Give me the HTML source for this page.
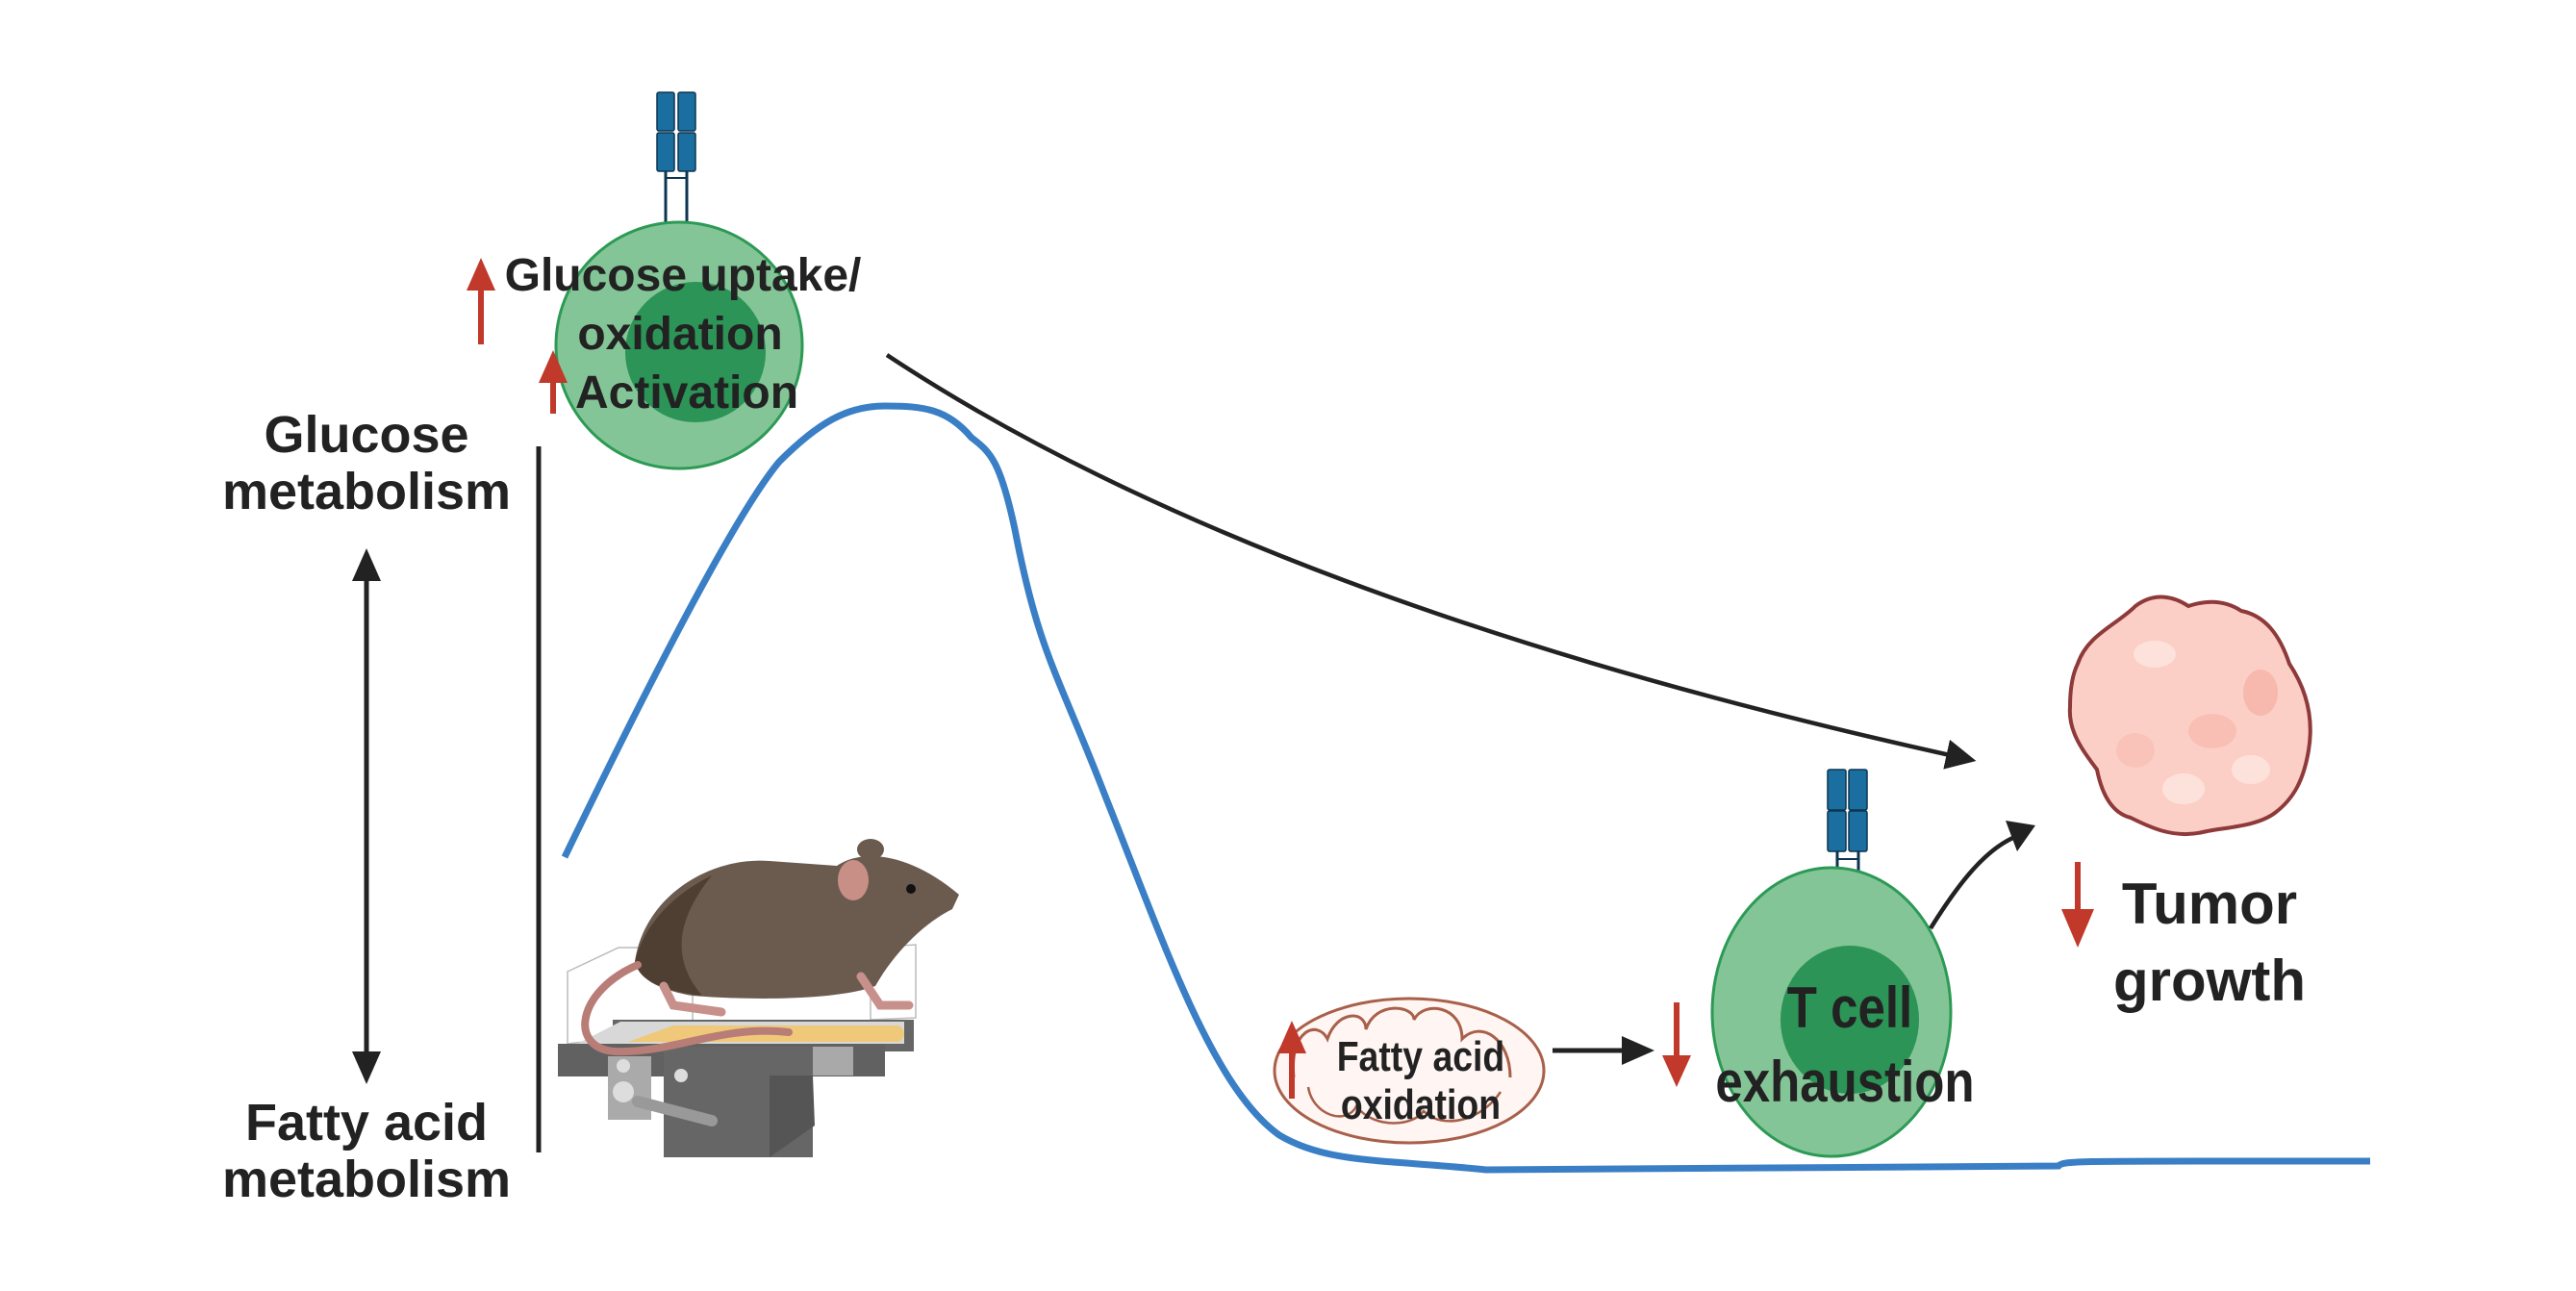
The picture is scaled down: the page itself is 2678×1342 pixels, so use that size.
<!DOCTYPE html>
<html><head><meta charset="utf-8"><style>
html,body{margin:0;padding:0;background:#fff}
svg{display:block}
text{font-family:"Liberation Sans",sans-serif;font-weight:bold;fill:#222}
</style></head><body>
<svg width="2678" height="1342" viewBox="0 0 2678 1342" xmlns="http://www.w3.org/2000/svg">
<defs>
<marker id="ah" markerWidth="10" markerHeight="10" refX="6" refY="5" orient="auto" markerUnits="strokeWidth">
<path d="M0,1.5 L7,5 L0,8.5 z" fill="#222"/></marker>
</defs>
<path d="M587,891 C660,740 760,540 810,480 C850,440 880,422 920,422 C960,422 985,425 1010,455 C1030,470 1040,480 1055,550 C1080,680 1100,700 1150,830 C1210,980 1260,1130 1330,1180 C1380,1210 1440,1205 1545,1216 C1700,1214 1900,1213 2140,1212 C2145,1206 2160,1207 2464,1207" fill="none" stroke="#3a7fc5" stroke-width="7"/>
<line x1="560" y1="464" x2="560" y2="1198" stroke="#222" stroke-width="5"/>
<line x1="381" y1="600" x2="381" y2="1097" stroke="#222" stroke-width="5"/>
<path d="M366,604 L381,570 L396,604 z" fill="#222"/>
<path d="M366,1093 L381,1127 L396,1093 z" fill="#222"/>
<text x="381" y="470" font-size="54" text-anchor="middle">Glucose</text>
<text x="381" y="529" font-size="54" text-anchor="middle">metabolism</text>
<text x="381" y="1185" font-size="54" text-anchor="middle">Fatty acid</text>
<text x="381" y="1244" font-size="54" text-anchor="middle">metabolism</text>
<path d="M922,369 C1150,520 1500,670 2050,790" fill="none" stroke="#222" stroke-width="4.5" marker-end="url(#ah)"/>
<line x1="692" y1="175" x2="692" y2="250" stroke="#0d3550" stroke-width="3"/>
<line x1="714" y1="175" x2="714" y2="250" stroke="#0d3550" stroke-width="3"/>
<line x1="692" y1="185" x2="714" y2="185" stroke="#0d3550" stroke-width="2"/>
<rect x="683" y="96" width="18" height="40" rx="2" fill="#1b6fa0" stroke="#0d3550" stroke-width="1.5"/>
<rect x="705" y="96" width="18" height="40" rx="2" fill="#1b6fa0" stroke="#0d3550" stroke-width="1.5"/>
<rect x="683" y="138" width="18" height="40" rx="2" fill="#1b6fa0" stroke="#0d3550" stroke-width="1.5"/>
<rect x="705" y="138" width="18" height="40" rx="2" fill="#1b6fa0" stroke="#0d3550" stroke-width="1.5"/>
<circle cx="706" cy="359" r="128" fill="#84c597" stroke="#2c9a55" stroke-width="3"/>
<circle cx="723" cy="366" r="73" fill="#2b9456"/>
<text x="710" y="302" font-size="48" text-anchor="middle">Glucose uptake/</text>
<text x="707" y="363" font-size="48" text-anchor="middle">oxidation</text>
<text x="598" y="424" font-size="48">Activation</text>
<rect x="497" y="300" width="6" height="58" fill="#c0392b"/>
<path d="M485,302 L500,268 L515,302 z" fill="#c0392b"/>
<rect x="572" y="395" width="6" height="35" fill="#c0392b"/>
<path d="M560,398 L575,364 L590,398 z" fill="#c0392b"/>
<g>
<path d="M590,1010 L643,985 L720,985 L720,1070 L590,1085 z" fill="none" stroke="#bbb" stroke-width="1.5"/>
<path d="M905,985 L952,982 L952,1058 L905,1060 z" fill="none" stroke="#bbb" stroke-width="1.5"/>
<rect x="637" y="1060" width="313" height="33" fill="#666"/>
<path d="M600,1085 L645,1062 L940,1062 L940,1085 z" fill="#d8d8d8"/>
<path d="M653,1083 L700,1066 L935,1066 Q945,1075 935,1083 z" fill="#f0c879"/>
<rect x="580" y="1085" width="340" height="34" fill="#616161"/>
<rect x="792" y="1088" width="95" height="30" fill="#a9a9a9"/>
<rect x="690" y="1088" width="155" height="115" fill="#666"/>
<path d="M845,1118 L847,1170 L800,1203 L800,1118 z" fill="#555"/>
<rect x="632" y="1098" width="45" height="66" fill="#aaa"/>
<circle cx="648" cy="1135" r="11" fill="#ddd"/>
<circle cx="648" cy="1108" r="7" fill="#ddd"/>
<circle cx="708" cy="1118" r="7" fill="#ddd"/>
<line x1="663" y1="1145" x2="740" y2="1165" stroke="#999" stroke-width="12" stroke-linecap="round"/>
<path d="M660,1000 C670,930 740,890 800,895 L870,900 C900,880 950,890 997,930 L990,945 C960,960 930,990 910,1025 C870,1040 780,1040 720,1035 C690,1030 665,1020 660,1000 z" fill="#6b5b4f"/>
<path d="M660,1000 C670,960 700,930 740,910 C700,960 700,1000 730,1035 C690,1030 665,1020 660,1000 z" fill="#4f3f32"/>
<ellipse cx="905" cy="883" rx="14" ry="11" fill="#6b5b4f"/>
<ellipse cx="887" cy="915" rx="16" ry="21" fill="#c88f86"/>
<circle cx="947" cy="924" r="5" fill="#111"/>
<path d="M690,1025 L700,1045 L750,1052 M895,1015 L915,1045 L945,1045" fill="none" stroke="#c8908a" stroke-width="9" stroke-linecap="round"/>
<path d="M663,1003 C600,1030 590,1090 640,1093 C700,1095 750,1065 820,1073" fill="none" stroke="#b77d76" stroke-width="8" stroke-linecap="round"/>
</g>
<ellipse cx="1465" cy="1113" rx="140" ry="75" fill="#fff5f2" stroke="#a8604a" stroke-width="3"/>
<path d="M1345,1120 C1340,1070 1370,1060 1380,1080 C1390,1050 1420,1050 1420,1070 C1430,1040 1470,1045 1470,1060 C1480,1040 1520,1045 1520,1080 C1540,1060 1570,1080 1570,1120" fill="none" stroke="#a8604a" stroke-width="3"/>
<path d="M1360,1130 C1365,1160 1400,1170 1410,1150 C1430,1175 1470,1170 1480,1155 C1500,1175 1540,1165 1560,1135" fill="none" stroke="#a8604a" stroke-width="2.5"/>
<text x="1477" y="1113" font-size="44" text-anchor="middle" transform="translate(1477 0) scale(0.85 1) translate(-1477 0)">Fatty acid</text>
<text x="1477" y="1163" font-size="44" text-anchor="middle" transform="translate(1477 0) scale(0.85 1) translate(-1477 0)">oxidation</text>
<rect x="1340" y="1092" width="6" height="50" fill="#c0392b"/>
<path d="M1328,1095 L1343,1061 L1358,1095 z" fill="#c0392b"/>
<line x1="1614" y1="1092" x2="1690" y2="1092" stroke="#222" stroke-width="5"/>
<path d="M1686,1077 L1720,1092 L1686,1107 z" fill="#222"/>
<rect x="1740" y="1042" width="6" height="60" fill="#c0392b"/>
<path d="M1728,1097 L1743,1130 L1758,1097 z" fill="#c0392b"/>
<line x1="1910" y1="880" x2="1910" y2="965" stroke="#0d3550" stroke-width="3"/>
<line x1="1932" y1="880" x2="1932" y2="965" stroke="#0d3550" stroke-width="3"/>
<line x1="1910" y1="893" x2="1932" y2="893" stroke="#0d3550" stroke-width="2"/>
<rect x="1900" y="800" width="19" height="42" rx="2" fill="#1b6fa0" stroke="#0d3550" stroke-width="1.5"/>
<rect x="1922" y="800" width="19" height="42" rx="2" fill="#1b6fa0" stroke="#0d3550" stroke-width="1.5"/>
<rect x="1900" y="843" width="19" height="42" rx="2" fill="#1b6fa0" stroke="#0d3550" stroke-width="1.5"/>
<rect x="1922" y="843" width="19" height="42" rx="2" fill="#1b6fa0" stroke="#0d3550" stroke-width="1.5"/>
<ellipse cx="1904" cy="1052" rx="124" ry="150" fill="#84c597" stroke="#2c9a55" stroke-width="3"/>
<ellipse cx="1923" cy="1060" rx="72" ry="77" fill="#2b9456"/>
<text x="1923" y="1068" font-size="60" text-anchor="middle" transform="translate(1923 0) scale(0.85 1) translate(-1923 0)">T cell</text>
<text x="1918" y="1145" font-size="60" text-anchor="middle" transform="translate(1918 0) scale(0.85 1) translate(-1918 0)">exhaustion</text>
<path d="M2007,965 C2035,920 2065,880 2100,868" fill="none" stroke="#222" stroke-width="4.5"/>
<path d="M2085,853 L2116,858 L2097,885 z" fill="#222"/>
<path d="M2160,690 C2170,660 2200,650 2220,630 C2240,615 2260,620 2275,630 C2290,625 2310,622 2330,635 C2355,640 2370,660 2380,690 C2400,720 2405,750 2400,780 C2395,810 2385,830 2365,845 C2345,860 2310,860 2290,865 C2260,872 2235,860 2215,850 C2195,845 2185,825 2180,800 C2165,780 2150,760 2152,735 C2152,715 2155,700 2160,690 z" fill="#fccfc6" stroke="#8e3a3a" stroke-width="4"/>
<ellipse cx="2240" cy="680" rx="22" ry="14" fill="#fde2dc"/>
<ellipse cx="2300" cy="760" rx="25" ry="18" fill="#f9bfb4"/>
<ellipse cx="2350" cy="720" rx="18" ry="24" fill="#f7b8ad"/>
<ellipse cx="2220" cy="780" rx="20" ry="18" fill="#f9c3b9"/>
<ellipse cx="2270" cy="820" rx="22" ry="16" fill="#fde2dc"/>
<ellipse cx="2340" cy="800" rx="20" ry="15" fill="#fde2dc"/>
<rect x="2157" y="896" width="6" height="60" fill="#c0392b"/>
<path d="M2143,945 L2160,985 L2177,945 z" fill="#c0392b"/>
<text x="2297" y="960" font-size="60" text-anchor="middle">Tumor</text>
<text x="2297" y="1040" font-size="60" text-anchor="middle">growth</text>
</svg>
</body></html>
